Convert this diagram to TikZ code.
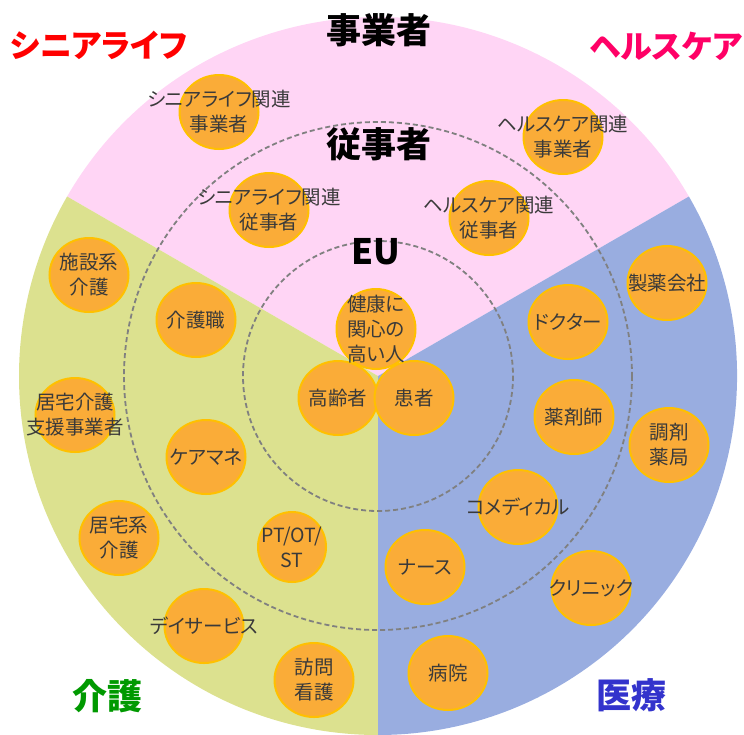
\documentclass[tikz,border=0pt]{standalone}
\usepackage{fontspec}
\setmainfont{Noto Sans CJK JP}[RawFeature=+palt]
\usepackage{xcolor}
\usetikzlibrary{shapes.geometric}

\definecolor{pinkbg}{HTML}{FFD5F5}
\definecolor{greenbg}{HTML}{DCE18F}
\definecolor{bluebg}{HTML}{99ADE0}
\definecolor{bubfill}{HTML}{FAAC38}
\definecolor{bubline}{HTML}{FFC000}
\definecolor{txtgray}{HTML}{3A3A3A}
\definecolor{ringgray}{HTML}{808080}
\definecolor{seniorred}{HTML}{FF0000}
\definecolor{healthpink}{HTML}{FF0066}
\definecolor{kaigogreen}{HTML}{009900}
\definecolor{iryoblue}{HTML}{3333CC}

\tikzset{
    bub/.style={ellipse, draw=bubline, line width=2pt, fill=bubfill, inner sep=0pt,
        minimum width=79pt, minimum height=74pt}, % the orange circles
    bubtxt/.style={text=txtgray, align=center, inner sep=0pt,
        font=\fontsize{19.5}{25}\selectfont},
    head/.style={inner sep=0pt, font=\bfseries\fontsize{35}{40}\selectfont},
    kanahead/.style={head, font=\bfseries\fontsize{32}{38}\selectfont},
    ring/.style={draw=ringgray, line width=1.8pt, dash pattern=on 5pt off 3pt},
}

\begin{document}
\begin{tikzpicture}[x=1pt, y=-1pt]
    \useasboundingbox (0,0) rectangle (744,734);
    \coordinate (c) at (378,376);

    % Sektoren
    \fill[pinkbg] (c) -- ++(210:359) arc[start angle=210, end angle=330, radius=359] -- cycle;
    \fill[greenbg] (c) -- ++(90:359) arc[start angle=90, end angle=210, radius=359] -- cycle;
    \fill[bluebg] (c) -- ++(-30:359) arc[start angle=-30, end angle=90, radius=359] -- cycle;

    % Ringe
    \draw[ring] (c) circle[radius=135];
    \draw[ring] (c) circle[radius=254];

    % Kreise
    \node[bub] (sljig) at (219,112) {};
    \node[bub] (slju) at (269,210) {};
    \node[bub] (hcjig) at (563,137) {};
    \node[bub] (hcju) at (489,218) {};
    \node[bub] (seiyaku) at (667,283) {};
    \node[bub] (doctor) at (568,322) {};
    \node[bub] (shisetsu) at (89,275) {};
    \node[bub] (kaigoshoku) at (196,320) {};
    \node[bub, minimum height=80pt] (kenko) at (376,329) {};
    \node[bub] (koreisha) at (338,398) {};
    \node[bub] (kanja) at (414,398) {};
    \node[bub] (kyotaku) at (75,415) {};
    \node[bub] (caremane) at (206,457) {};
    \node[bub] (kyotakukei) at (119,538) {};
    \node[bub, minimum width=68pt, minimum height=70pt] (pt) at (292,547) {};
    \node[bub] (day) at (204,626) {};
    \node[bub] (houmon) at (314,680) {};
    \node[bub] (yakuzaishi) at (574,417) {};
    \node[bub] (chozai) at (669,445) {};
    \node[bub] (comedical) at (518,507) {};
    \node[bub] (nurse) at (425,567) {};
    \node[bub] (clinic) at (591,588) {};
    \node[bub] (byoin) at (448,673) {};

    % Beschriftung
    \node[bubtxt] (sljig-t) at (sljig) {シニアライフ関連\\事業者};
    \node[bubtxt] (slju-t) at (slju) {シニアライフ関連\\従事者};
    \node[bubtxt] (hcjig-t) at (hcjig) {ヘルスケア関連\\事業者};
    \node[bubtxt] (hcju-t) at (hcju) {ヘルスケア関連\\従事者};
    \node[bubtxt] (seiyaku-t) at (seiyaku) {製薬会社};
    \node[bubtxt] (doctor-t) at (doctor) {ドクター};
    \node[bubtxt] (shisetsu-t) at (shisetsu) {施設系\\介護};
    \node[bubtxt] (kaigoshoku-t) at (kaigoshoku) {介護職};
    \node[bubtxt] (kenko-t) at (kenko) {健康に\\関心の\\高い人};
    \node[bubtxt] (koreisha-t) at (koreisha) {高齢者};
    \node[bubtxt] (kanja-t) at (kanja) {患者};
    \node[bubtxt] (kyotaku-t) at (kyotaku) {居宅介護\\支援事業者};
    \node[bubtxt] (caremane-t) at (caremane) {ケアマネ};
    \node[bubtxt] (kyotakukei-t) at (kyotakukei) {居宅系\\介護};
    \node[bubtxt] (pt-t) at (pt) {PT/OT/\\ST};
    \node[bubtxt] (day-t) at (day) {デイサービス};
    \node[bubtxt] (houmon-t) at (houmon) {訪問\\看護};
    \node[bubtxt] (yakuzaishi-t) at (yakuzaishi) {薬剤師};
    \node[bubtxt] (chozai-t) at (chozai) {調剤\\薬局};
    \node[bubtxt] (comedical-t) at (comedical) {コメディカル};
    \node[bubtxt] (nurse-t) at (nurse) {ナース};
    \node[bubtxt] (clinic-t) at (clinic) {クリニック};
    \node[bubtxt] (byoin-t) at (byoin) {病院};

    % Titel
    \node[head] (jigyo) at (379,30) {事業者};
    \node[head] (juji) at (379,144) {従事者};
    \node[head] (eu) at (376,252) {EU};
    \node[kanahead, text=seniorred] (senior) at (99,45) {シニアライフ};
    \node[kanahead, text=healthpink] (health) at (666,46) {ヘルスケア};
    \node[head, text=kaigogreen] (kaigo) at (107,696) {介護};
    \node[head, text=iryoblue] (iryo) at (631,695) {医療};
\end{tikzpicture}
\end{document}
